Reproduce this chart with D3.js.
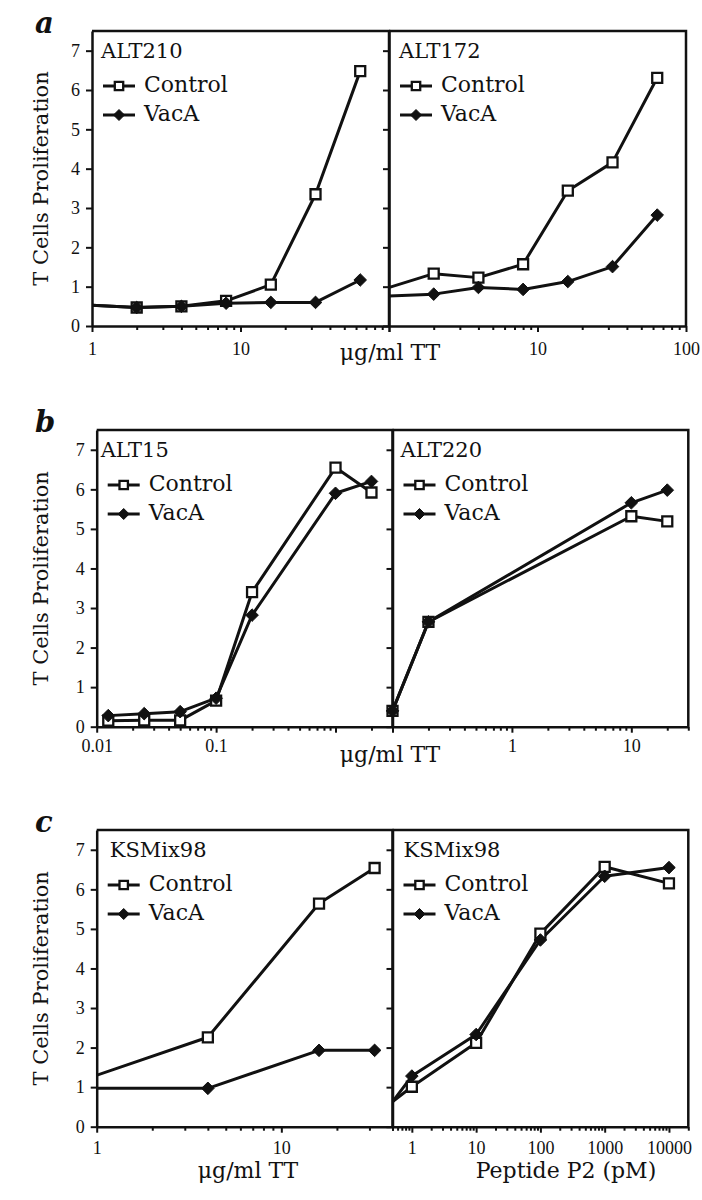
<!DOCTYPE html>
<html><head><meta charset="utf-8">
<script src="https://cdn.jsdelivr.net/npm/d3@7"></script>
<style>
body{margin:0;background:#fff;}
svg{display:block;}
text{font-family:"DejaVu Serif","Liberation Serif",serif;fill:#111;}
text.tk{font-family:"Liberation Serif","DejaVu Serif",serif;}
</style>
</head><body>
<svg id="chart" width="702" height="1200"></svg>
<script>
// ---------- data ----------
const rowLetters = ["a", "b", "c"];
const panelNames = ["ALT210", "ALT172", "ALT15", "ALT220", "KSMix98", "KSMix98"];
const seriesNames = ["Control", "VacA"];
const yTitle = "T Cells Proliferation";
const yTickValues = [0, 1, 2, 3, 4, 5, 6, 7];
const yDomain = [0, 7.5];

// panel a (µg/ml TT)
const domainA1 = [1, 100];
const dosesA1 = [0.5, 2, 4, 8, 16, 32, 64];
const controlA1 = [0.59, 0.47, 0.50, 0.64, 1.05, 3.35, 6.48];
const vacaA1 = [0.59, 0.47, 0.50, 0.58, 0.60, 0.60, 1.17];
const xLabelsA1 = [1, 10];

const domainA2 = [1, 100];
const dosesA2 = [0.5, 2, 4, 8, 16, 32, 64];
const controlA2 = [0.63, 1.33, 1.23, 1.57, 3.44, 4.16, 6.31];
const vacaA2 = [0.71, 0.81, 0.98, 0.93, 1.13, 1.51, 2.82];
const xLabelsA2 = [10, 100];

// panel b (µg/ml TT)
const domainB1 = [0.01, 3];
const dosesB1 = [0.0125, 0.025, 0.05, 0.1, 0.2, 1, 2];
const controlB1 = [0.15, 0.16, 0.16, 0.66, 3.40, 6.55, 5.92];
const vacaB1 = [0.28, 0.33, 0.38, 0.72, 2.82, 5.90, 6.20];
const xLabelsB1 = [0.01, 0.1];

const domainB2 = [0.1, 30];
const dosesB2 = [0.1, 0.2, 10, 20];
const controlB2 = [0.40, 2.65, 5.32, 5.19];
const vacaB2 = [0.40, 2.65, 5.66, 5.98];
const xLabelsB2 = [1, 10];

// panel c (µg/ml TT and Peptide P2 pM)
const domainC1 = [1, 40];
const dosesC1 = [0.5, 4, 16, 32];
const controlC1 = [0.82, 2.26, 5.64, 6.54];
const vacaC1 = [0.97, 0.97, 1.93, 1.93];
const xLabelsC1 = [1, 10];

const domainC2 = [0.5, 20000];
const dosesC2 = [0.3, 1, 10, 100, 1000, 10000];
const controlC2 = [0.35, 1.01, 2.12, 4.88, 6.57, 6.15];
const vacaC2 = [0.15, 1.28, 2.33, 4.72, 6.33, 6.55];
const xLabelsC2 = [1, 10, 100, 1000, 10000];

const xTitles = ["μg/ml TT", "μg/ml TT", "μg/ml TT", "Peptide P2 (pM)"];

// ---------- layout ----------
const tickFs = 18;
const rows = [
  {top: 31,  y0: 326,    left: 92,   w: 297,   tickBase: 29, letterY: 33},
  {top: 430, y0: 726.7,  left: 96.7, w: 295.8, tickBase: 25, letterY: 432},
  {top: 830, y0: 1126.7, left: 96.7, w: 295.8, tickBase: 27, letterY: 832}
];
const panels = [
  {row: 0, col: 0, dom: domainA1, doses: dosesA1, series: [controlA1, vacaA1], labels: xLabelsA1, lx: 9},
  {row: 0, col: 1, dom: domainA2, doses: dosesA2, series: [controlA2, vacaA2], labels: xLabelsA2, lx: 10},
  {row: 1, col: 0, dom: domainB1, doses: dosesB1, series: [controlB1, vacaB1], labels: xLabelsB1, lx: 4},
  {row: 1, col: 1, dom: domainB2, doses: dosesB2, series: [controlB2, vacaB2], labels: xLabelsB2, lx: 8},
  {row: 2, col: 0, dom: domainC1, doses: dosesC1, series: [controlC1, vacaC1], labels: xLabelsC1, lx: 13},
  {row: 2, col: 1, dom: domainC2, doses: dosesC2, series: [controlC2, vacaC2], labels: xLabelsC2, lx: 11}
];

const svg = d3.select("#chart");
const fmt = d3.format("~g");
const sq = (s) => `M${-s},${-s}h${2*s}v${2*s}h${-2*s}Z`;
const dia = (s) => `M0,${-s}L${s},0L0,${s}L${-s},0Z`;

function marker(g, kind, cx, cy, big) {
  if (kind === 0) {
    g.append("path").attr("d", sq(big ? 5 : 4.2)).attr("transform", `translate(${cx},${cy})`)
      .attr("fill", "#fff").attr("stroke", "#111").attr("stroke-width", 2.3);
  } else {
    g.append("path").attr("d", dia(big ? 6.3 : 5.5)).attr("transform", `translate(${cx},${cy})`)
      .attr("fill", "#111").attr("stroke", "#111").attr("stroke-width", 1);
  }
}

panels.forEach((p, i) => {
  const r = rows[p.row];
  const x0 = r.left + p.col * r.w, x1 = x0 + r.w;
  const x = d3.scaleLog().domain(p.dom).range([x0, x1]);
  const y = d3.scaleLinear().domain(yDomain).range([r.y0, r.top]);
  const g = svg.append("g");

  svg.append("clipPath").attr("id", "clip" + i).append("rect")
    .attr("x", x0).attr("y", r.top).attr("width", r.w).attr("height", r.y0 - r.top);

  // frame top + right
  g.append("path").attr("d", `M${x0},${r.top}H${x1}V${r.y0}`)
    .attr("fill", "none").attr("stroke", "#111").attr("stroke-width", 2.5);

  // x ticks
  const lo = Math.floor(Math.log10(p.dom[0])), hi = Math.ceil(Math.log10(p.dom[1]));
  const major = [], minor = [];
  for (let e = lo; e <= hi; e++) {
    for (let m = 1; m < 10; m++) {
      const v = +(m * Math.pow(10, e)).toPrecision(6);
      if (v < p.dom[0] * 0.999 || v > p.dom[1] * 1.001) continue;
      (m === 1 ? major : minor).push(v);
    }
  }
  const isLab = (d) => p.labels.some(l => Math.abs(l / d - 1) < 1e-6);
  const xMaj = g.append("g").attr("transform", `translate(0,${r.y0})`)
    .call(d3.axisBottom(x).tickValues(major).tickSize(6).tickSizeOuter(0)
      .tickPadding(r.tickBase - 6 - 0.71 * tickFs).tickFormat(d => isLab(d) ? fmt(d) : ""));
  xMaj.attr("font-size", tickFs).attr("font-family", null);
  xMaj.select(".domain").attr("stroke", "#111").attr("stroke-width", 2.5);
  xMaj.selectAll(".tick line").attr("stroke", "#111").attr("stroke-width", 2);
  xMaj.selectAll(".tick text").attr("class", "tk").attr("font-size", tickFs).attr("fill", "#111");
  const xMin = g.append("g").attr("transform", `translate(0,${r.y0})`)
    .call(d3.axisBottom(x).tickValues(minor).tickSize(4).tickSizeOuter(0).tickFormat(""));
  xMin.select(".domain").remove();
  xMin.selectAll(".tick line").attr("stroke", "#111").attr("stroke-width", 2);

  // y axis
  const yAx = g.append("g").attr("transform", `translate(${x0},0)`)
    .call(d3.axisLeft(y).tickValues(yTickValues).tickSize(6).tickSizeOuter(0).tickPadding(6)
      .tickFormat(d => p.col === 0 ? fmt(d) : ""));
  yAx.attr("font-size", tickFs).attr("font-family", null);
  yAx.select(".domain").attr("stroke", "#111").attr("stroke-width", 2.5);
  yAx.selectAll(".tick line").attr("stroke", "#111").attr("stroke-width", 2);
  yAx.selectAll(".tick text").attr("class", "tk").attr("font-size", tickFs).attr("fill", "#111");

  // data lines
  const lineG = g.append("g").attr("clip-path", `url(#clip${i})`);
  const line = d3.line().x(d => x(d[0])).y(d => y(d[1]));
  p.series.forEach((vals) => {
    const pts = p.doses.map((d, j) => [d, vals[j]]);
    lineG.append("path").attr("d", line(pts)).attr("fill", "none")
      .attr("stroke", "#111").attr("stroke-width", 3).attr("stroke-linejoin", "round");
  });
  p.series.forEach((vals, k) => {
    p.doses.forEach((d, j) => {
      if (d < p.dom[0] * 0.999) return;
      marker(g, k, x(d), y(vals[j]), true);
    });
  });

  // legend
  g.append("text").attr("x", x0 + p.lx).attr("y", r.top + 27).attr("font-size", 21).text(panelNames[i]);
  seriesNames.forEach((s, k) => {
    const ly = r.top + 55 + k * 29;
    g.append("line").attr("x1", x0 + 11).attr("x2", x0 + 43).attr("y1", ly).attr("y2", ly)
      .attr("stroke", "#111").attr("stroke-width", 3);
    marker(g, k, x0 + 27, ly, false);
    g.append("text").attr("x", x0 + 52).attr("y", ly + 6).attr("font-size", 22).text(s);
  });
});

// row letters and y titles
rows.forEach((r, k) => {
  svg.append("text").attr("x", 35).attr("y", r.letterY).attr("font-size", 29)
    .attr("font-weight", "bold").attr("font-style", "italic").text(rowLetters[k]);
  const cy = (r.top + r.y0) / 2;
  svg.append("text").attr("transform", `translate(48,${cy}) rotate(-90)`)
    .attr("text-anchor", "middle").attr("font-size", 21).text(yTitle);
});

// x titles
const titlePos = [[390, 360], [390, 762], [248, 1178], [566, 1178]];
xTitles.forEach((t, k) => {
  svg.append("text").attr("x", titlePos[k][0]).attr("y", titlePos[k][1])
    .attr("text-anchor", "middle").attr("font-size", 22).text(t);
});
</script>
</body></html>
